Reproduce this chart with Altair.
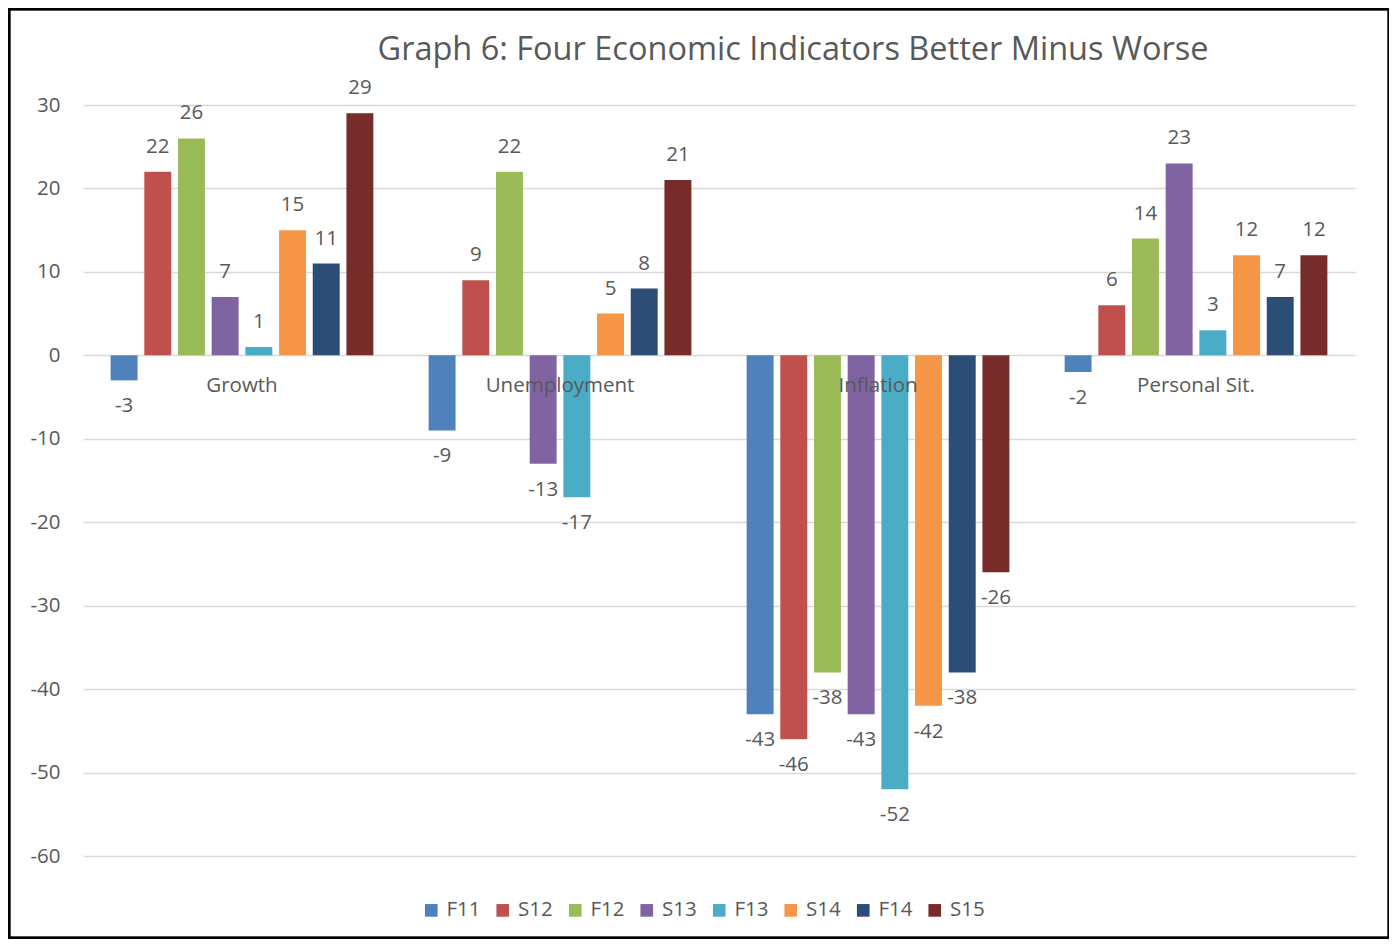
import altair as alt
import pandas as pd

categories = ["Growth", "Unemployment", "Inflation", "Personal Sit."]
series = ["F11", "S12", "F12", "S13", "F13", "S14", "F14", "S15"]
colors = ["#4F81BD", "#C0504D", "#9BBB59", "#8064A2", "#4BACC6", "#F79646", "#2C4D75", "#772C2A"]
growth = [-3, 22, 26, 7, 1, 15, 11, 29]
unemployment = [-9, 9, 22, -13, -17, 5, 8, 21]
inflation = [-43, -46, -38, -43, -52, -42, -38, -26]
personal = [-2, 6, 14, 23, 3, 12, 7, 12]
y_ticks = [-60, -50, -40, -30, -20, -10, 0, 10, 20, 30]
title_text = "Graph 6: Four Economic Indicators Better Minus Worse"

rows = []
for cat, vals in zip(categories, [growth, unemployment, inflation, personal]):
    for s, v in zip(series, vals):
        rows.append({"category": cat, "series": s, "value": v})
df = pd.DataFrame(rows)
cat_df = pd.DataFrame({"category": categories})
title_df = pd.DataFrame({"title": [title_text]})

FONT = "Open Sans"
GREY = "#595959"
FS = 20.5

x_enc = alt.X("category:N", sort=categories, axis=None,
              scale=alt.Scale(paddingInner=0, paddingOuter=0))
xo_enc = alt.XOffset("series:N", sort=series,
                     scale=alt.Scale(paddingInner=0.2, paddingOuter=0.82))
y_scale = alt.Scale(domain=[-60, 30], nice=False, zero=False)

bars = alt.Chart(df).mark_bar().encode(
    x=x_enc,
    xOffset=xo_enc,
    y=alt.Y("value:Q", scale=y_scale, title=None,
            axis=alt.Axis(values=y_ticks, grid=True, gridColor="#d9d9d9", gridWidth=1.3,
                          domain=False, ticks=False, labelFontSize=FS, labelFont=FONT,
                          labelColor=GREY, labelPadding=23,
                          labelExpr="'' + datum.value")),
    color=alt.Color("series:N", sort=series,
                    scale=alt.Scale(domain=series, range=colors),
                    legend=alt.Legend(orient="none", legendX=338, legendY=795,
                                      direction="horizontal", title=None,
                                      symbolType="square", symbolSize=160,
                                      symbolStrokeWidth=0, labelFontSize=FS,
                                      labelFont=FONT, labelColor=GREY,
                                      columnPadding=11.5, labelOffset=5)),
)

base_lbl = alt.Chart(df).transform_calculate(label="'' + datum.value")

pos_labels = base_lbl.transform_filter("datum.value >= 0").mark_text(
    baseline="middle", dy=-25, fontSize=FS, font=FONT, color=GREY
).encode(x=x_enc, xOffset=xo_enc, y=alt.Y("value:Q", scale=y_scale), text="label:N")

neg_labels = base_lbl.transform_filter("datum.value < 0").mark_text(
    baseline="middle", dy=26, fontSize=FS, font=FONT, color=GREY
).encode(x=x_enc, xOffset=xo_enc, y=alt.Y("value:Q", scale=y_scale), text="label:N")

cat_labels = alt.Chart(cat_df).mark_text(
    baseline="middle", dy=31, fontSize=FS, font=FONT, color=GREY
).encode(x=alt.X("category:N", sort=categories, axis=None,
                 scale=alt.Scale(paddingInner=0, paddingOuter=0)),
         y=alt.datum(0), text="category:N")

frame = alt.Chart(cat_df).mark_rect(fill=None, stroke="black", strokeWidth=2.5).encode(
    x=alt.value(-74), x2=alt.value(1306), y=alt.value(-96), y2=alt.value(833)
)

title = alt.Chart(title_df).mark_text(
    baseline="middle", align="center", fontSize=32.5, font=FONT, color=GREY
).encode(x=alt.value(710), y=alt.value(-55), text="title:N")

chart = alt.layer(frame, bars, pos_labels, neg_labels, cat_labels, title).properties(
    width=1272, height=751,
    autosize=alt.AutoSizeParams(type="none"),
    padding={"left": 75, "top": 97, "right": 34, "bottom": 83},
).configure_view(stroke=None)

chart.save("out.html", embed_options={"renderer": "svg", "actions": False})
